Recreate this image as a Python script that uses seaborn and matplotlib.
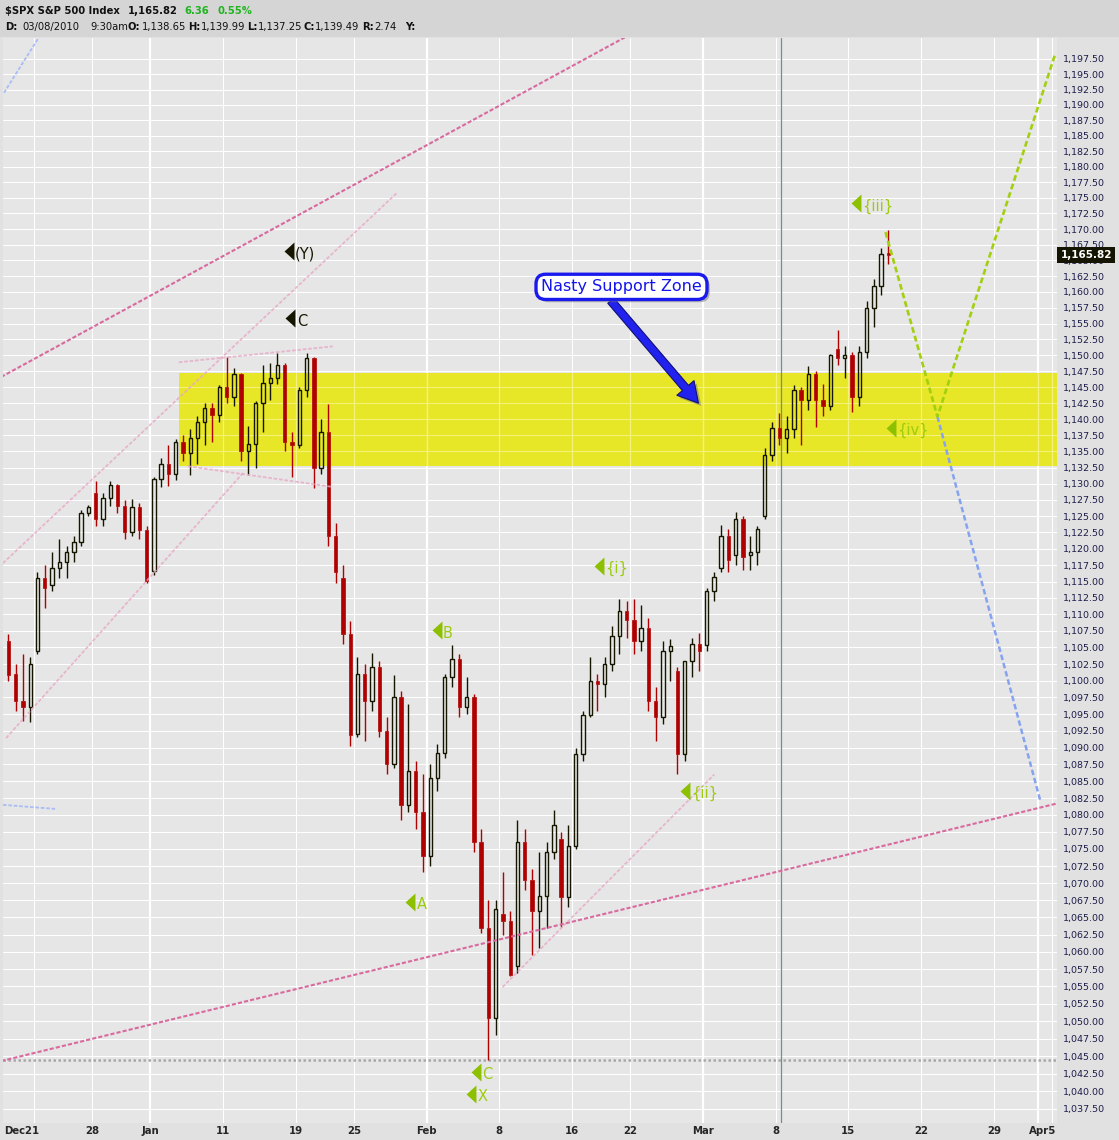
# %%
import numpy as np
import pandas as pd
import matplotlib
matplotlib.use("Agg")
import matplotlib.pyplot as plt
import matplotlib.patheffects as pe
import matplotlib.transforms as mtransforms
from matplotlib.patches import Rectangle
from matplotlib.ticker import FixedLocator, FuncFormatter, NullLocator
import seaborn as sns

# %% data
holidays = ["2009-12-25", "2010-01-01", "2010-01-18", "2010-02-15", "2010-04-02"]
first_candle_day = "2009-12-17"
last_candle_day = "2010-03-17"

# two bars per session (am / pm)
opens = [
    1106.0, 1101.0, 1097.0, 1096.0, 1104.5, 1115.5, 1114.5, 1117.0, 1118.0, 1119.5,
    1121.0, 1125.5, 1128.5, 1124.5, 1127.8, 1129.8, 1126.5, 1122.5, 1126.4, 1122.8,
    1116.6, 1130.8, 1133.0, 1131.5, 1136.5, 1134.8, 1137.1, 1139.5, 1141.7, 1140.6,
    1145.0, 1143.5, 1147.0, 1135.0, 1136.2, 1142.5, 1145.7, 1146.5, 1148.5, 1136.5,
    1136.0, 1144.5, 1149.5, 1132.5, 1138.0, 1122.0, 1115.5, 1107.0,
    1092.0, 1101.0, 1097.0, 1102.0, 1092.5, 1087.5, 1097.5, 1081.5, 1086.5, 1080.5,
    1074.0, 1085.5, 1089.2, 1100.5, 1103.3, 1096.0, 1097.5, 1076.0, 1063.5, 1050.5,
    1065.5, 1064.5, 1058.0, 1076.0, 1070.5, 1066.0, 1068.1, 1074.5, 1076.5, 1068.0,
    1075.5, 1089.0, 1094.9, 1100.0, 1099.5, 1102.5, 1106.8, 1110.5,
    1109.2, 1106.0, 1108.0, 1097.0, 1094.6, 1104.5, 1101.5, 1089.0, 1102.9, 1105.5,
    1105.4, 1113.5, 1117.0, 1122.0, 1119.0, 1124.5, 1119.0, 1119.5, 1125.0, 1134.5,
    1138.7, 1137.0, 1138.5, 1144.5, 1143.0, 1147.0, 1143.0, 1142.0, 1151.0, 1149.5,
    1150.0, 1143.5, 1150.5, 1157.5, 1161.0, 1166.0,
]
highs = [
    1107.0, 1102.5, 1104.0, 1103.5, 1116.5, 1117.5, 1119.5, 1121.5, 1120.5, 1122.0,
    1126.0, 1126.7, 1130.4, 1128.5, 1130.4, 1130.0, 1127.5, 1127.7, 1127.0, 1123.5,
    1131.0, 1133.9, 1136.0, 1136.9, 1137.5, 1138.4, 1140.5, 1142.5, 1142.5, 1145.4,
    1149.7, 1148.0, 1147.2, 1139.0, 1142.8, 1148.4, 1148.8, 1150.4, 1148.8, 1138.0,
    1145.0, 1150.4, 1149.8, 1140.0, 1142.3, 1124.0, 1117.5, 1109.0,
    1103.6, 1102.5, 1104.1, 1103.0, 1094.5, 1100.8, 1098.5, 1096.5, 1088.0, 1086.0,
    1087.5, 1090.5, 1101.0, 1105.3, 1104.0, 1100.5, 1098.0, 1078.0, 1067.5, 1067.5,
    1071.6, 1066.0, 1079.3, 1078.0, 1072.0, 1074.5, 1076.0, 1080.7, 1077.5, 1078.5,
    1090.0, 1095.5, 1103.5, 1101.0, 1103.5, 1108.2, 1112.4, 1112.0,
    1112.3, 1111.5, 1109.5, 1099.0, 1106.0, 1106.3, 1102.0, 1103.0, 1106.5, 1107.2,
    1114.0, 1116.5, 1123.7, 1123.0, 1125.6, 1125.0, 1122.0, 1123.5, 1135.5, 1139.5,
    1141.0, 1140.5, 1145.3, 1145.0, 1148.3, 1147.5, 1145.5, 1150.2, 1153.9, 1151.5,
    1150.5, 1151.5, 1158.5, 1162.0, 1167.0, 1169.8,
]
lows = [
    1100.0, 1095.5, 1094.0, 1093.8, 1104.0, 1111.0, 1113.5, 1115.5, 1115.5, 1118.0,
    1120.5, 1125.0, 1123.5, 1123.5, 1126.5, 1125.5, 1121.5, 1122.0, 1121.5, 1114.8,
    1116.0, 1129.5, 1129.7, 1130.5, 1133.5, 1131.3, 1133.0, 1136.0, 1136.5, 1139.5,
    1142.5, 1142.0, 1133.5, 1131.4, 1132.5, 1138.0, 1143.0, 1145.5, 1135.0, 1131.1,
    1135.5, 1143.5, 1129.3, 1131.5, 1120.5, 1114.8, 1105.5, 1090.2,
    1091.5, 1091.0, 1095.5, 1091.5, 1086.0, 1087.0, 1079.3, 1080.5, 1078.0, 1071.6,
    1072.5, 1083.5, 1088.5, 1099.0, 1094.5, 1095.0, 1074.5, 1062.8, 1044.5, 1048.0,
    1062.5, 1056.5, 1057.0, 1069.0, 1059.5, 1060.5, 1063.5, 1073.5, 1063.6, 1066.5,
    1075.0, 1088.0, 1094.5, 1095.5, 1097.5, 1101.5, 1104.0, 1106.5,
    1104.0, 1104.5, 1095.5, 1091.0, 1093.5, 1100.0, 1086.0, 1088.0, 1100.5, 1101.5,
    1104.5, 1112.0, 1116.5, 1116.4, 1117.5, 1116.7, 1116.8, 1117.5, 1124.5, 1133.5,
    1136.0, 1134.7, 1137.0, 1136.0, 1141.5, 1138.8, 1140.5, 1141.5, 1148.5, 1146.5,
    1141.1, 1142.0, 1149.5, 1154.5, 1159.5, 1164.5,
]
closes = [
    1100.8, 1097.0, 1096.0, 1102.5, 1115.5, 1114.0, 1117.0, 1118.0, 1119.5, 1121.0,
    1125.5, 1126.4, 1124.5, 1127.8, 1129.8, 1126.5, 1122.5, 1126.4, 1122.8, 1115.1,
    1130.8, 1133.0, 1131.5, 1136.5, 1134.8, 1137.1, 1139.5, 1141.7, 1140.6, 1145.0,
    1143.5, 1147.0, 1135.0, 1136.2, 1142.5, 1145.7, 1146.5, 1148.5, 1136.5, 1136.0,
    1144.5, 1149.5, 1132.5, 1138.0, 1122.0, 1116.5, 1107.0, 1091.8,
    1101.0, 1097.0, 1102.0, 1092.5, 1087.5, 1097.5, 1081.5, 1086.5, 1080.5, 1074.0,
    1085.5, 1089.2, 1100.5, 1103.3, 1096.0, 1097.5, 1076.0, 1063.5, 1050.5, 1066.2,
    1064.5, 1056.7, 1076.0, 1070.5, 1066.0, 1068.1, 1074.5, 1078.5, 1068.0, 1075.5,
    1089.0, 1094.9, 1100.0, 1099.5, 1102.5, 1106.8, 1110.5, 1109.2,
    1106.0, 1108.0, 1097.0, 1094.6, 1104.5, 1105.2, 1089.0, 1102.9, 1105.5, 1104.5,
    1113.5, 1115.7, 1122.0, 1118.3, 1124.5, 1118.8, 1119.5, 1123.0, 1134.5, 1138.7,
    1137.0, 1138.5, 1144.5, 1143.0, 1147.0, 1143.0, 1142.0, 1150.0, 1149.5, 1150.0,
    1143.5, 1150.5, 1157.5, 1161.0, 1166.0, 1165.82,
]

week_dates = ["2009-12-21", "2009-12-28", "2010-01-04", "2010-01-11", "2010-01-19",
              "2010-01-25", "2010-02-01", "2010-02-08", "2010-02-16", "2010-02-22",
              "2010-03-01", "2010-03-08", "2010-03-15", "2010-03-22", "2010-03-29",
              "2010-04-05"]
week_labels = ["Dec21", "28", "Jan", "11", "19", "25", "Feb", "8", "16", "22",
               "Mar", "8", "15", "22", "29", "Apr5"]
month_dates = ["2010-01-04", "2010-02-01", "2010-03-01", "2010-04-01"]

# support zone, old low, cursor (x in sessions from Dec 21)
zone_start = 10.0
zone_low, zone_high = 1132.7, 1147.2
old_low = 1044.5
cursor_day = 51.4

# trend lines (x in sessions from Dec 21, y price)
upper_channel_x, upper_channel_y = [-2.25, 40.67], [1146.6, 1201.1]
lower_channel_x, lower_channel_y = [-2.25, 70.34], [1044.3, 1081.7]
rise_top_x, rise_top_y = [-2.12, 25.01], [1117.8, 1175.9]
rise_bot_x, rise_bot_y = [-1.91, 14.44], [1091.4, 1131.8]
flat_top_x, flat_top_y = [9.97, 20.55], [1148.9, 1151.4]
flat_bot_x, flat_bot_y = [10.59, 20.55], [1132.7, 1129.5]
wave_ii_x, wave_ii_y = [32.22, 46.78], [1054.9, 1086.0]
blue_a_x, blue_a_y = [-2.05, 0.36], [1192.0, 1201.1]
blue_b_x, blue_b_y = [-2.12, 1.46], [1081.5, 1080.9]
proj_green_x, proj_green_y = [58.55, 62.12, 70.2], [1169.5, 1140.4, 1198.2]
proj_blue_x, proj_blue_y = [62.12, 69.18], [1140.4, 1082.2]

# wave labels
wave_text = ["{iii}", "{iv}", "{i}", "{ii}", "B", "A", "C", "X", "(Y)", "C"]
wave_x = [56.52, 58.93, 38.82, 44.77, 27.7, 25.87, 30.37, 30.06, 17.53, 17.64]
wave_y = [1174.1, 1138.7, 1117.4, 1083.6, 1107.6, 1067.3, 1042.8, 1039.6, 1166.5, 1155.8]
wave_green = [True, True, True, True, True, True, True, True, False, False]

note_text = "Nasty Support Zone"
note_x, note_y = 40.4, 1160.8
note_tip_x, note_tip_y = 45.69, 1142.5

last_price = 1165.82
change, change_pct = 6.36, 0.55

# %% calendar -> session positions
cal = pd.bdate_range("2009-12-17", "2010-04-05", freq="C", holidays=holidays)
origin = cal.get_loc(pd.Timestamp("2009-12-21"))
pos = pd.Series(np.arange(len(cal)) - origin, index=cal)

days = pos[first_candle_day:last_candle_day].values
x = np.repeat(days, 2) + np.tile([0.25, 0.75], len(days))
o, h, l, c = (np.array(a) for a in (opens, highs, lows, closes))

week_pos = [pos[pd.Timestamp(d)] for d in week_dates]
month_pos = [pos[pd.Timestamp(d)] for d in month_dates]

# %% figure
sns.set_theme(style="white")
plt.rcParams["font.family"] = ["DejaVu Sans"]

W, H = 1119, 1140
fig = plt.figure(figsize=(W / 100, H / 100), dpi=100, facecolor="#e1e1e1")
fig.patches.append(Rectangle((0, (H - 37) / H), 1, 37 / H, transform=fig.transFigure,
                             fc="#d5d5d5", ec="none", zorder=-1))
ax = fig.add_axes([3 / W, 17 / H, 1054 / W, 1085 / H])
ax.set_facecolor("#e6e6e6")
ax.set_yscale("log")
xmin, xmax = -2.12, 70.34
ax.set_xlim(xmin, xmax)
ax.set_ylim(1035.5, 1200.94)

yt = np.arange(1037.5, 1198, 2.5)
ax.yaxis.set_major_locator(FixedLocator(yt))
ax.yaxis.set_minor_locator(NullLocator())
ax.yaxis.set_major_formatter(FuncFormatter(lambda v, _: f"{v:,.2f}"))
ax.yaxis.tick_right()
ax.tick_params(axis="y", length=0, pad=4.3, labelsize=6.8, labelcolor="#1c1c4a")
ax.set_xticks([])
ax.grid(axis="y", color="white", lw=0.75)
ax.set_axisbelow(True)
for s in ax.spines.values():
    s.set_visible(False)

for p in week_pos:
    ax.axvline(p, color="white", lw=0.75, zorder=0.6)
for p in month_pos:
    ax.axvline(p, color="white", lw=1.6, zorder=0.6)

# support zone
ax.add_patch(Rectangle((zone_start, zone_low), xmax - zone_start, zone_high - zone_low,
                       fc="#e8e61c", ec="none", alpha=0.95, zorder=1))
zt = yt[(yt > zone_low) & (yt < zone_high)]
ax.hlines(zt, zone_start, xmax, color="#f3f27a", lw=0.75, zorder=1.1)
ax.vlines([p for p in week_pos + month_pos if p > zone_start], zone_low, zone_high,
          color="#f3f27a", lw=0.9, zorder=1.1)

ax.axvline(cursor_day, color="#6f9090", lw=0.9, zorder=2)
ax.axhline(old_low, color="#a8a8a8", lw=1.8, linestyle=(0, (1, 1)), zorder=2)

# candles
up = c >= o
lo_b, hi_b = np.minimum(o, c), np.maximum(o, c)
hgt = np.maximum(hi_b - lo_b, 0.3)
RED, BLK = "#b00000", "#161600"
cols = np.where(up, BLK, RED)
ax.vlines(x, l, lo_b, colors=cols, lw=1.0, zorder=3)
ax.vlines(x, hi_b, h, colors=cols, lw=1.0, zorder=3)
ax.bar(x[up], hgt[up], bottom=lo_b[up], width=0.23, facecolor="none",
       edgecolor=BLK, lw=1.0, zorder=3.2)
ax.bar(x[~up], hgt[~up], bottom=lo_b[~up], width=0.23, color=RED,
       edgecolor=RED, lw=0.5, zorder=3.2)

# trend lines
dark_pink, light_pink = "#d86a9e", "#e6a9c6"
dash = (0, (2, 1))
for xs, ys in [(upper_channel_x, upper_channel_y), (lower_channel_x, lower_channel_y)]:
    sns.lineplot(x=xs, y=ys, ax=ax, color=dark_pink, lw=1.5, linestyle=dash, sort=False, zorder=4)
for xs, ys in [(rise_top_x, rise_top_y), (rise_bot_x, rise_bot_y), (flat_top_x, flat_top_y),
               (flat_bot_x, flat_bot_y), (wave_ii_x, wave_ii_y)]:
    sns.lineplot(x=xs, y=ys, ax=ax, color=light_pink, lw=1.3, alpha=0.8,
                 linestyle=dash, sort=False, zorder=4)
for xs, ys in [(blue_a_x, blue_a_y), (blue_b_x, blue_b_y)]:
    sns.lineplot(x=xs, y=ys, ax=ax, color="#a9bdf5", lw=1.3, linestyle=dash, sort=False, zorder=4)
sns.lineplot(x=proj_blue_x, y=proj_blue_y, ax=ax, color="#86a3f2", lw=1.8,
             linestyle=(0, (2.2, 1.2)), sort=False, zorder=4)
sns.lineplot(x=proj_green_x, y=proj_green_y, ax=ax, color="#a2cf10", lw=1.9,
             linestyle=(0, (2.2, 1.2)), sort=False, zorder=4.1)

# wave labels
tri = [(0.55, 1), (-0.55, 0), (0.55, -1)]
for txt, wx, wy, g in zip(wave_text, wave_x, wave_y, wave_green):
    tc = "#8cc000" if g else "#161600"
    lc = "#9ccc10" if g else "#161600"
    ax.plot(wx, wy, marker=tri, ms=13, color=tc, mec="none", zorder=6)
    ax.annotate(txt, xy=(wx, wy), xytext=(4.5, -2), textcoords="offset points",
                va="center", ha="left", fontsize=10.5, color=lc, zorder=6)

# callout
note = ax.annotate(note_text, xy=(note_tip_x, note_tip_y), xytext=(note_x, note_y),
                   ha="center", va="center", fontsize=11.5, color="#1414ee", zorder=8,
                   bbox=dict(boxstyle="round,pad=0.32,rounding_size=0.6", fc="white",
                             ec="#1a1aee", lw=2.4),
                   arrowprops=dict(arrowstyle="simple,head_length=0.8,head_width=0.9,tail_width=0.32",
                                   fc="#2222ee", ec="#10107a", lw=0.8, mutation_scale=18,
                                   relpos=(0.4, 0.0), shrinkA=0, shrinkB=0))
shadow = [pe.withSimplePatchShadow(offset=(2, -2), shadow_rgbFace="#777777", alpha=0.5)]
note.get_bbox_patch().set_path_effects(shadow)
note.arrow_patch.set_path_effects(shadow)

# last price tag
ax.annotate(f"{last_price:,.2f}", xy=(1, last_price), xycoords=("axes fraction", "data"),
            xytext=(2.5, 0), textcoords="offset points", va="center", ha="left",
            color="white", fontweight="bold", fontsize=7.5, zorder=10, annotation_clip=False,
            bbox=dict(boxstyle="square,pad=0.3", fc="#141400", ec="none"))

# date labels under the plot
tr = mtransforms.blended_transform_factory(ax.transData, ax.transAxes)
for i, (p, lab) in enumerate(zip(week_pos, week_labels)):
    ha, px = "center", p
    if i == 0:
        ha, px = "left", xmin + 0.05
    elif i == len(week_pos) - 1:
        ha, px = "right", xmax - 0.05
    ax.text(px, -0.0075, lab, transform=tr, ha=ha, va="center", fontsize=7.3,
            fontweight="bold", color="#262626", clip_on=False)

# header
def head(txt, px, py, weight="normal", color="#111111", after=None):
    kw = dict(va="center", ha="left", fontsize=7.2, fontweight=weight, color=color,
              annotation_clip=False)
    if after is None:
        return ax.annotate(txt, xy=(px, H - py), xycoords="figure pixels", **kw)
    return ax.annotate(txt, xy=(1, 0.5), xycoords=after, xytext=(0.6, 0),
                       textcoords="offset points", **kw)

head("\\$SPX S&P 500 Index", 5, 11, "bold")
head(f"{last_price:,.2f}", 128, 11, "bold")
head(f"{change:.2f}", 184, 11, "bold", "#1fb41f")
head(f"{change_pct:.2f}%", 217, 11, "bold", "#1fb41f")

head("03/08/2010", 22, 27)
head("9:30am", 90, 27)
head("D:", 5, 27, "bold")
for lab, val, px in [("O:", "1,138.65", 128), ("H:", "1,139.99", 188), ("L:", "1,137.25", 247),
                     ("C:", "1,139.49", 303), ("R:", "2.74", 362)]:
    t = head(lab, px, 27, "bold")
    head(val, 0, 0, after=t)
head("Y:", 405, 27, "bold")

fig.savefig("out.png", dpi=100, facecolor=fig.get_facecolor())
